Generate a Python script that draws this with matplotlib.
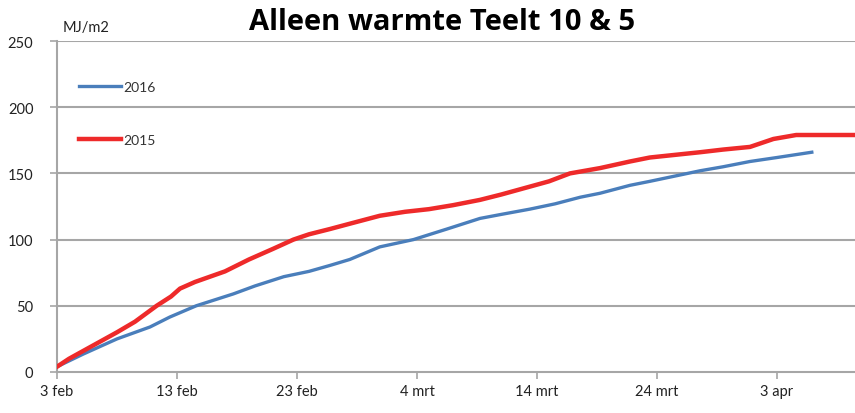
import matplotlib
matplotlib.use("Agg")
import matplotlib.pyplot as plt

plt.rcParams['font.family'] = ['Lato', 'DejaVu Sans']

title = "Alleen warmte Teelt 10 & 5"
unit_label = "MJ/m2"

tick_days = [0, 10, 20, 30, 40, 50, 60]
tick_labels = ["3 feb", "13 feb", "23 feb", "4 mrt", "14 mrt", "24 mrt", "3 apr"]
y_ticks = [0, 50, 100, 150, 200, 250]

days_2015 = [0, 1, 2.2, 3, 5, 6.5, 8.3, 9.5, 10.25, 11.5, 12.75, 14, 16, 18, 19.7, 21,
             22.75, 24.4, 26.9, 29, 31, 33, 35.25, 37, 39.4, 41, 42.75, 45.25, 47.75,
             49.4, 51.5, 53.6, 55.5, 57.75, 59.7, 61.6, 66.5]
vals_2015 = [4, 10, 16, 20, 30, 38, 50, 57, 63, 68, 72, 76, 85, 93, 100, 104,
             108, 112, 118, 121, 123, 126, 130, 134, 140, 144, 150, 154, 159,
             162, 164, 166, 168, 170, 176, 179, 179]

days_2016 = [0, 2.2, 5, 7.75, 9.4, 11.6, 14.7, 16.5, 18.9, 21, 22.75, 24.4, 26.9, 29.7,
             32.5, 35.25, 37, 39.4, 41.5, 43.6, 45.25, 47.75, 49.4, 51.5, 53.6, 55.5,
             57.75, 60, 62.9]
vals_2016 = [4, 13.6, 25, 34, 41.5, 50, 59, 65, 72, 76, 80.5, 85, 94.5, 100,
             108, 116, 119, 123, 127, 132, 135, 141, 144, 148, 152, 155,
             159, 162, 166]

fig = plt.figure(figsize=(8.55, 4.14), dpi=100)
ax = fig.add_axes([57/855, 41/414, 1 - 57/855, 331/414])

grid_c = '#a6a6a6'
for y in y_ticks[1:]:
    ax.axhline(y, color=grid_c, lw=1.5, zorder=1)

ax.plot(days_2016, vals_2016, color='#4a7ebb', lw=2.4, zorder=3, label='2016')
ax.plot(days_2015, vals_2015, color='#ee2a2a', lw=3.2, zorder=3, label='2015')

ax.set_xlim(0, 66.5)
ax.set_ylim(0, 250)
ax.set_xticks(tick_days)
ax.set_xticklabels(tick_labels)
ax.set_yticks(y_ticks)
for s in ['top', 'right']:
    ax.spines[s].set_visible(False)
for s in ['left', 'bottom']:
    ax.spines[s].set_color(grid_c)
    ax.spines[s].set_linewidth(1.5)
ax.tick_params(axis='both', colors=grid_c, length=5, width=1.2, labelsize=10.5,
               labelcolor='#222222')
ax.tick_params(axis='y', pad=12)

leg = ax.legend(loc='upper left', bbox_to_anchor=(0.012, 0.918), frameon=False,
                fontsize=10, labelspacing=3.0, handlelength=3.0, handletextpad=0.15,
                labelcolor='#333333')

fig.text(442/855, 1 - 22/414, title, ha='center', va='center', fontsize=21,
         fontweight='bold', color='black', family=['Open Sans', 'DejaVu Sans'])
fig.text(63/855, 1 - 28/414, unit_label, ha='left', va='center', fontsize=10.5,
         color='#222222')

fig.savefig('out.png', dpi=100)
